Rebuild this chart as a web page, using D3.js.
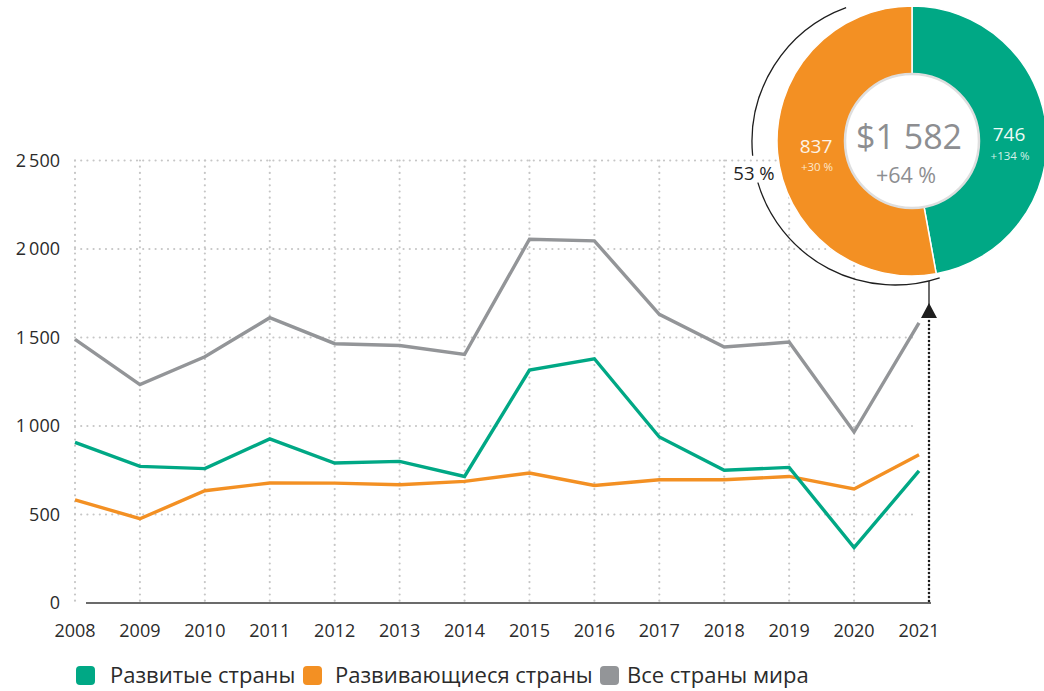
<!DOCTYPE html>
<html>
<head>
<meta charset="utf-8">
<script src="https://cdn.jsdelivr.net/npm/d3@7"></script>
<style>
  body { margin: 0; background: #fff; }
  svg { display: block; font-family: "Open Sans", "Noto Sans", sans-serif; }
</style>
</head>
<body>
<svg id="chart" width="1044" height="691"></svg>
<script>
// values
const years = [2008, 2009, 2010, 2011, 2012, 2013, 2014, 2015, 2016, 2017, 2018, 2019, 2020, 2021];
const developed = [908, 772, 759, 927, 791, 800, 715, 1316, 1380, 938, 750, 766, 313, 746];
const developing = [583, 476, 634, 678, 677, 668, 687, 734, 664, 696, 696, 715, 644, 837];
const world = [1490, 1234, 1391, 1612, 1465, 1455, 1404, 2055, 2046, 1631, 1446, 1474, 966, 1582];
const yTicks = [0, 500, 1000, 1500, 2000, 2500];

const seriesNames = ["Развитые страны", "Развивающиеся страны", "Все страны мира"];
const seriesColors = ["#00a885", "#f39023", "#939598"];

const donutValues = [746, 837]; // developed, developing in 2021
const donutGrowth = ["+134 %", "+30 %"];
const donutTotal = "$1 582";
const donutTotalGrowth = "+64 %";
const donutShare = "53 %";

const svg = d3.select("#chart");

const x = d3.scaleLinear().domain([2008, 2021]).range([75, 919]);
const y = d3.scaleLinear().domain([0, 2500]).range([603, 160.5]);

const fmt = d3.formatLocale({ decimal: ",", thousands: "\u2009", grouping: [3], currency: ["$", ""] }).format(",d");

// dotted grid
const grid = svg.append("g")
  .attr("stroke", "#c6c6c6")
  .attr("stroke-width", 2.2)
  .attr("stroke-linecap", "round")
  .attr("stroke-dasharray", "0 6.2");

grid.selectAll(".hgrid")
  .data(yTicks.filter(d => d > 0))
  .enter()
  .append("line")
  .attr("x1", x(2008))
  .attr("x2", 913)
  .attr("y1", d => y(d))
  .attr("y2", d => y(d));

grid.selectAll(".vgrid")
  .data(years.filter(d => d < 2021))
  .enter()
  .append("line")
  .attr("x1", d => x(d))
  .attr("x2", d => x(d))
  .attr("y1", y(2500))
  .attr("y2", y(0));

// y labels
svg.append("g")
  .selectAll("text")
  .data(yTicks)
  .enter()
  .append("text")
  .attr("x", 60)
  .attr("y", d => y(d))
  .attr("dy", "0.36em")
  .attr("text-anchor", "end")
  .attr("font-size", 18)
  .attr("fill", "#2b2b2b")
  .text(d => fmt(d));

// x labels
svg.append("g")
  .selectAll("text")
  .data(years)
  .enter()
  .append("text")
  .attr("x", d => x(d))
  .attr("y", 637)
  .attr("text-anchor", "middle")
  .attr("font-size", 18)
  .attr("fill", "#2b2b2b")
  .text(d => d);

// base line
svg.append("line")
  .attr("x1", 86)
  .attr("x2", 931)
  .attr("y1", y(0))
  .attr("y2", y(0))
  .attr("stroke", "#3a3a3a")
  .attr("stroke-width", 1.6);

// dotted pointer line for 2021
svg.append("line")
  .attr("x1", 929)
  .attr("x2", 929)
  .attr("y1", 321)
  .attr("y2", y(0))
  .attr("stroke", "#1e1e1e")
  .attr("stroke-width", 2.6)
  .attr("stroke-linecap", "round")
  .attr("stroke-dasharray", "0 4");

// lines
const line = d3.line()
  .x((d, i) => x(years[i]))
  .y(d => y(d));

[world, developing, developed].forEach((values, k) => {
  const color = [seriesColors[2], seriesColors[1], seriesColors[0]][k];
  svg.append("path")
    .datum(values)
    .attr("d", line)
    .attr("fill", "none")
    .attr("stroke", color)
    .attr("stroke-width", 3.4)
    .attr("stroke-linejoin", "miter");
});

// donut
const cx = 912, cy = 141;
const donut = svg.append("g").attr("transform", `translate(${cx},${cy})`);

const pie = d3.pie().sort(null).startAngle(0).endAngle(2 * Math.PI);
const arcGen = d3.arc().innerRadius(66).outerRadius(135);

donut.selectAll("path")
  .data(pie(donutValues))
  .enter()
  .append("path")
  .attr("d", arcGen)
  .attr("fill", (d, i) => seriesColors[i])
  .attr("stroke", "#fff")
  .attr("stroke-width", 1.5);

donut.append("circle")
  .attr("r", 67)
  .attr("fill", "#fff")
  .attr("stroke", "#dedede")
  .attr("stroke-width", 2.5);

// total and growth
donut.append("text")
  .attr("x", -3)
  .attr("y", 8)
  .attr("text-anchor", "middle")
  .attr("font-size", 34)
  .attr("fill", "#8d8e91")
  .text(donutTotal);

donut.append("text")
  .attr("x", -6)
  .attr("y", 42)
  .attr("text-anchor", "middle")
  .attr("font-size", 21.5)
  .attr("fill", "#8d8e91")
  .text(donutTotalGrowth);

// labels inside segments
donut.append("text")
  .attr("x", -96)
  .attr("y", 12)
  .attr("text-anchor", "middle")
  .attr("font-size", 19)
  .attr("fill", "#fdf3e6")
  .text(donutValues[1]);

donut.append("text")
  .attr("x", -95)
  .attr("y", 30)
  .attr("text-anchor", "middle")
  .attr("font-size", 11.5)
  .attr("fill", "#fde7cc")
  .text(donutGrowth[1]);

donut.append("text")
  .attr("x", 97)
  .attr("y", 0)
  .attr("text-anchor", "middle")
  .attr("font-size", 19)
  .attr("fill", "#eefaf6")
  .text(donutValues[0]);

donut.append("text")
  .attr("x", 98)
  .attr("y", 19)
  .attr("text-anchor", "middle")
  .attr("font-size", 11.5)
  .attr("fill", "#d5f1e8")
  .text(donutGrowth[0]);

// thin bracket arc around the developing share
const deg = Math.PI / 180;
const bracket = svg.append("g").attr("transform", "translate(895,142)");
const thinArc = d3.arc().innerRadius(143).outerRadius(143);
[[161.8, 253.5], [264.5, 340]].forEach(a => {
  bracket.append("path")
    .attr("d", thinArc({ startAngle: a[0] * deg, endAngle: a[1] * deg }))
    .attr("fill", "none")
    .attr("stroke", "#1e1e1e")
    .attr("stroke-width", 1.3);
});

svg.append("text")
  .attr("x", 754)
  .attr("y", 180)
  .attr("text-anchor", "middle")
  .attr("font-size", 18.5)
  .attr("fill", "#1e1e1e")
  .text(donutShare);

// pointer from bracket to the 2021 point
svg.append("line")
  .attr("x1", 929)
  .attr("x2", 929)
  .attr("y1", 281)
  .attr("y2", 305)
  .attr("stroke", "#1e1e1e")
  .attr("stroke-width", 1.3);

svg.append("path")
  .attr("d", d3.line()([[929, 303], [937, 318], [921, 318]]) + "Z")
  .attr("fill", "#1e1e1e");

// legend
const legendRectX = [76, 303, 600];
const legendTextX = [110, 335, 627];
const legend = svg.append("g")
  .selectAll("g")
  .data(seriesNames)
  .enter()
  .append("g");

legend.append("rect")
  .attr("x", (d, i) => legendRectX[i])
  .attr("y", 666)
  .attr("width", 19)
  .attr("height", 19)
  .attr("rx", 4)
  .attr("fill", (d, i) => seriesColors[i]);

legend.append("text")
  .attr("x", (d, i) => legendTextX[i])
  .attr("y", 683)
  .attr("font-size", 22)
  .attr("fill", "#2b2b2b")
  .text(d => d);
</script>
</body>
</html>
